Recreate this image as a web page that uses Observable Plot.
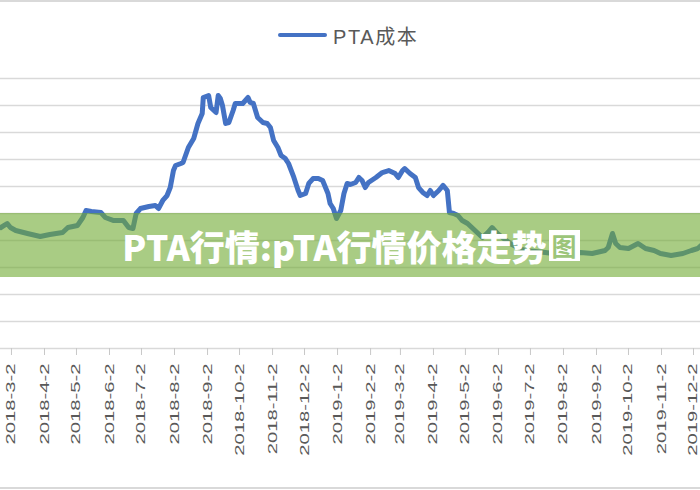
<!DOCTYPE html>
<html>
<head>
<meta charset="utf-8">
<script src="https://cdn.jsdelivr.net/npm/d3@7"></script>
<script src="https://cdn.jsdelivr.net/npm/@observablehq/plot@0.6"></script>
<style>
  html, body { margin: 0; padding: 0; background: #fff; }
  #wrap { position: relative; width: 700px; height: 490px; overflow: hidden; font-family: "Liberation Sans", "Noto Sans CJK SC", sans-serif; }
  #chart { position: absolute; left: 0; top: 0; }
  .hline { position: absolute; left: 0; width: 700px; height: 2px; background: #d9d9d9; }
  #legend { position: absolute; left: 278px; top: 22px; height: 26px; display: flex; align-items: center; }
  #legend .sw { width: 49px; height: 4.5px; background: #4472c4; border-radius: 2px; margin-right: 6px; }
  #legend .lb { font-size: 20px; color: #595959; letter-spacing: 1.6px; font-family: "Liberation Sans", "Noto Sans CJK SC", sans-serif; }
  #band { position: absolute; left: 0; top: 213px; width: 700px; height: 64px; background: rgba(112,170,50,0.6); }
  #title { position: absolute; left: 0; top: 213px; width: 700px; height: 64px; display: flex; align-items: center; justify-content: center; color: #fff; font-family: "Noto Sans CJK SC", sans-serif; font-weight: 900; font-size: 35px; white-space: nowrap; padding-left: 2px; box-sizing: border-box; }
  #title .odd { display: inline-block; background: #fff; color: #9cc57a; font-size: 25px; font-weight: 700; line-height: 31px; padding: 0 3px; margin-left: 2px; }
</style>
</head>
<body>
<div id="wrap">
  <div class="hline" style="top:0px"></div>
  <div id="chart"></div>
  <div class="hline" style="top:487px"></div>
  <div id="legend"><div class="sw"></div><div class="lb" id="legendLabel"></div></div>
  <div id="band"></div>
  <div id="title"></div>
</div>
<script>
const seriesName = "PTA成本";
const titleMain = "PTA行情:pTA行情价格走势";
const titleLast = "图";

const dates = [
  "2018-02-20","2018-02-26","2018-03-01","2018-03-06","2018-03-17","2018-03-29","2018-04-07","2018-04-19","2018-04-24","2018-05-03",
  "2018-05-08","2018-05-11","2018-05-16","2018-05-25","2018-05-29","2018-06-06","2018-06-15","2018-06-20","2018-06-24","2018-06-25",
  "2018-06-27","2018-07-01","2018-07-09","2018-07-15","2018-07-18","2018-07-22","2018-07-26","2018-07-29","2018-08-01","2018-08-03",
  "2018-08-08","2018-08-10","2018-08-15","2018-08-20","2018-08-24","2018-08-28","2018-08-29","2018-09-03","2018-09-05","2018-09-08",
  "2018-09-10","2018-09-12","2018-09-14","2018-09-16","2018-09-19","2018-09-22","2018-09-26","2018-09-28","2018-10-05","2018-10-10",
  "2018-10-12","2018-10-15","2018-10-19","2018-10-24","2018-10-28","2018-10-31","2018-11-03","2018-11-07","2018-11-10","2018-11-14",
  "2018-11-17","2018-11-22","2018-11-26","2018-11-28","2018-12-03","2018-12-06","2018-12-10","2018-12-15","2018-12-19","2018-12-24",
  "2018-12-26","2018-12-29","2019-01-01","2019-01-05","2019-01-08","2019-01-11","2019-01-14","2019-01-19","2019-01-22","2019-01-25",
  "2019-01-28","2019-01-31","2019-02-07","2019-02-13","2019-02-19","2019-02-25","2019-02-28","2019-03-04","2019-03-06","2019-03-11",
  "2019-03-16","2019-03-19","2019-03-23","2019-03-27","2019-03-30","2019-04-02","2019-04-07","2019-04-11","2019-04-15","2019-04-17",
  "2019-04-21","2019-04-25","2019-04-29","2019-05-04","2019-05-09","2019-05-13","2019-05-18","2019-05-23","2019-05-27","2019-06-01",
  "2019-06-07","2019-06-13","2019-06-20","2019-06-27","2019-07-16","2019-07-30","2019-08-08","2019-08-18","2019-08-29","2019-09-10",
  "2019-09-13","2019-09-17","2019-09-20","2019-09-24","2019-10-02","2019-10-11","2019-10-18","2019-10-26","2019-11-01","2019-11-11",
  "2019-11-22","2019-11-30","2019-12-06","2019-12-09"
];
const values = [
  5240,5315,5240,5185,5130,5074,5111,5148,5240,5278,
  5426,5555,5537,5518,5426,5370,5370,5240,5222,5315,
  5500,5592,5630,5648,5592,5741,5833,5981,6296,6389,
  6426,6444,6722,6889,7167,7352,7648,7685,7463,7407,
  7370,7685,7630,7500,7167,7185,7407,7537,7537,7648,
  7556,7537,7278,7185,7167,7093,6852,6722,6574,6518,
  6426,6167,5926,5833,5870,6056,6148,6148,6111,5870,
  5685,5592,5407,5555,5870,6056,6037,6074,6167,6111,
  5981,6074,6167,6259,6296,6241,6167,6296,6333,6241,
  6167,5981,5889,5833,5926,5833,5926,6019,5926,5518,
  5500,5463,5370,5315,5222,5148,5055,5148,5240,5130,
  5037,4944,4870,4815,4778,4741,4759,4778,4759,4815,
  4870,5130,4944,4870,4852,4944,4852,4815,4759,4722,
  4759,4815,4852,4907
];
const tickDates = [
  "2018-03-02","2018-04-02","2018-05-02","2018-06-02","2018-07-02","2018-08-02","2018-09-02","2018-10-02","2018-11-02","2018-12-02",
  "2019-01-02","2019-02-02","2019-03-02","2019-04-02","2019-05-02","2019-06-02","2019-07-02","2019-08-02","2019-09-02","2019-10-02",
  "2019-11-02","2019-12-02"
];
const yTicks = [3000,3500,4000,4500,5000,5500,6000,6500,7000,7500,8000];

const data = dates.map((d, i) => ({date: new Date(d), value: values[i]}));
const fmt = d3.utcFormat("%Y-%-m-%-d");

const svg = Plot.plot({
  width: 700,
  height: 490,
  marginTop: 78,
  marginBottom: 142,
  marginLeft: 0,
  marginRight: 0,
  style: {background: "transparent", fontFamily: "'Liberation Sans', sans-serif"},
  x: {type: "utc", domain: [new Date("2018-02-19T17:00Z"), new Date("2019-12-08T14:00Z")]},
  y: {domain: [3000, 8000], axis: null},
  marks: [
    Plot.gridY(yTicks, {stroke: "#d9d9d9", strokeOpacity: 1, strokeWidth: 1.6}),
    Plot.axisX(tickDates.map(d => new Date(d)), {
      tickFormat: fmt, tickRotate: -90, tickSize: 7, tickPadding: 8,
      stroke: "#c8c8c8", fill: "#595959", fontSize: 12.5
    }),
    Plot.line(data, {x: "date", y: "value", stroke: "#4472c4", strokeWidth: 5, strokeLinejoin: "round", strokeLinecap: "round", clip: true})
  ]
});
document.getElementById("chart").appendChild(svg);
svg.querySelectorAll('g[aria-label="x-axis tick label"] text').forEach(t => {
  const tr = t.getAttribute("transform") || "";
  t.setAttribute("transform", tr + " scale(1.62,1)");
});

document.getElementById("legendLabel").textContent = seriesName;
const title = document.getElementById("title");
title.appendChild(document.createTextNode(titleMain));
const last = document.createElement("span");
last.className = "odd";
last.textContent = titleLast;
title.appendChild(last);
</script>
</body>
</html>
